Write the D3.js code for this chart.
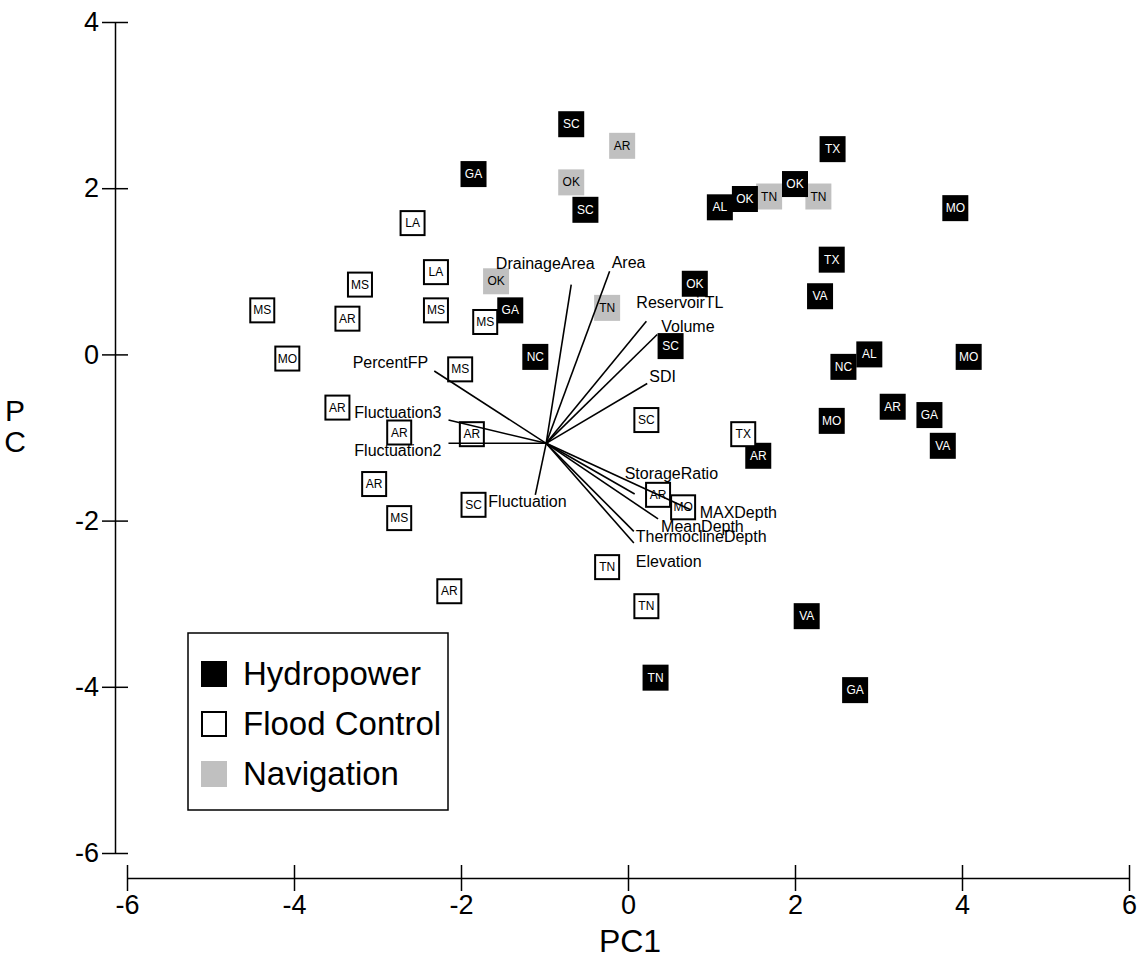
<!DOCTYPE html>
<html>
<head>
<meta charset="utf-8">
<script src="https://cdn.jsdelivr.net/npm/d3@7"></script>
<style>
  body { margin: 0; background: #fff; }
  svg { font-family: "Liberation Sans", Arial, sans-serif; }
  .axis path, .axis line { stroke: #000; stroke-width: 1.5; }
  .tick text { font-size: 27px; fill: #000; }
</style>
</head>
<body>
<div id="chart"></div>
<script>
//Global variables
const width = 1138;
const height = 964;

//Sites scored on PC1 / PC2, one array per reservoir use
const hydropower = [
    {st: "SC", pc1: -0.68, pc2: 2.77}, {st: "GA", pc1: -1.85, pc2: 2.17},
    {st: "SC", pc1: -0.51, pc2: 1.74}, {st: "AL", pc1: 1.10, pc2: 1.77},
    {st: "OK", pc1: 1.40, pc2: 1.87}, {st: "OK", pc1: 2.00, pc2: 2.05},
    {st: "TX", pc1: 2.45, pc2: 2.47}, {st: "MO", pc1: 3.92, pc2: 1.76},
    {st: "TX", pc1: 2.44, pc2: 1.14}, {st: "OK", pc1: 0.80, pc2: 0.85},
    {st: "VA", pc1: 2.30, pc2: 0.70}, {st: "GA", pc1: -1.41, pc2: 0.53},
    {st: "SC", pc1: 0.51, pc2: 0.10}, {st: "NC", pc1: -1.11, pc2: -0.03},
    {st: "AL", pc1: 2.89, pc2: 0.00}, {st: "NC", pc1: 2.58, pc2: -0.15},
    {st: "MO", pc1: 4.08, pc2: -0.03}, {st: "AR", pc1: 3.17, pc2: -0.63},
    {st: "MO", pc1: 2.44, pc2: -0.80}, {st: "GA", pc1: 3.61, pc2: -0.73},
    {st: "VA", pc1: 3.77, pc2: -1.10}, {st: "AR", pc1: 1.56, pc2: -1.22},
    {st: "VA", pc1: 2.14, pc2: -3.15}, {st: "TN", pc1: 0.33, pc2: -3.89},
    {st: "GA", pc1: 2.72, pc2: -4.04}
];

const floodControl = [
    {st: "LA", pc1: -2.58, pc2: 1.58}, {st: "LA", pc1: -2.30, pc2: 0.99},
    {st: "MS", pc1: -3.21, pc2: 0.84}, {st: "MS", pc1: -4.38, pc2: 0.53},
    {st: "AR", pc1: -3.36, pc2: 0.43}, {st: "MS", pc1: -2.30, pc2: 0.53},
    {st: "MS", pc1: -1.71, pc2: 0.39}, {st: "MO", pc1: -4.08, pc2: -0.05},
    {st: "MS", pc1: -2.01, pc2: -0.18}, {st: "AR", pc1: -3.48, pc2: -0.64},
    {st: "AR", pc1: -2.74, pc2: -0.94}, {st: "AR", pc1: -1.87, pc2: -0.96},
    {st: "AR", pc1: -3.04, pc2: -1.56}, {st: "MS", pc1: -2.74, pc2: -1.97},
    {st: "SC", pc1: -1.85, pc2: -1.81}, {st: "AR", pc1: -2.14, pc2: -2.85},
    {st: "SC", pc1: 0.22, pc2: -0.79}, {st: "TX", pc1: 1.38, pc2: -0.96},
    {st: "AR", pc1: 0.36, pc2: -1.69}, {st: "MO", pc1: 0.66, pc2: -1.84},
    {st: "TN", pc1: -0.25, pc2: -2.56}, {st: "TN", pc1: 0.22, pc2: -3.03}
];

const navigation = [
    {st: "AR", pc1: -0.07, pc2: 2.51}, {st: "OK", pc1: -0.68, pc2: 2.07},
    {st: "TN", pc1: 1.69, pc2: 1.90}, {st: "TN", pc1: 2.28, pc2: 1.90},
    {st: "OK", pc1: -1.58, pc2: 0.88}, {st: "TN", pc1: -0.25, pc2: 0.56}
];

//Variable loadings, drawn from a common origin
const vectorOrigin = {pc1: -0.98, pc2: -1.07};
const vectors = [
    {name: "DrainageArea", pc1: -0.68, pc2: 0.84},
    {name: "Area", pc1: -0.22, pc2: 1.00},
    {name: "ReservoirTL", pc1: 0.22, pc2: 0.40},
    {name: "Volume", pc1: 0.35, pc2: 0.24},
    {name: "SDI", pc1: 0.23, pc2: -0.35},
    {name: "PercentFP", pc1: -2.32, pc2: -0.20},
    {name: "Fluctuation3", pc1: -2.15, pc2: -0.79},
    {name: "Fluctuation2", pc1: -2.15, pc2: -1.07},
    {name: "Fluctuation", pc1: -1.11, pc2: -1.69},
    {name: "StorageRatio", pc1: 0.08, pc2: -1.68},
    {name: "MAXDepth", pc1: 0.75, pc2: -1.87},
    {name: "MeanDepth", pc1: 0.36, pc2: -1.98},
    {name: "ThermoclineDepth", pc1: 0.07, pc2: -2.13},
    {name: "Elevation", pc1: 0.07, pc2: -2.27}
];

const xTicks = [-6, -4, -2, 0, 2, 4, 6];
const yTicks = [-6, -4, -2, 0, 2, 4];
const legendItems = ["Hydropower", "Flood Control", "Navigation"];

//Label placement for the vectors (pixel offsets from the arrow tip)
const vecLabelPos = {
    DrainageArea: [-26, -16, "middle"],
    Area: [2, -3, "start"],
    ReservoirTL: [-10, -13, "start"],
    Volume: [4, -2, "start"],
    SDI: [2, -1, "start"],
    PercentFP: [-6, -3, "end"],
    Fluctuation3: [-7, -2, "end"],
    Fluctuation2: [-7, 13, "end"],
    Fluctuation: [-47, 12, "start"],
    StorageRatio: [-10, -15, "start"],
    MAXDepth: [9, 8, "start"],
    MeanDepth: [3, 13, "start"],
    ThermoclineDepth: [2, 11, "start"],
    Elevation: [2, 24, "start"]
};

//Styles per group
const groupStyle = {
    Hydropower: {fill: "#000", stroke: "none", text: "#fff"},
    "Flood Control": {fill: "#fff", stroke: "#000", text: "#000"},
    Navigation: {fill: "#c0c0c0", stroke: "none", text: "#000"}
};

//Scales
const xScale = d3.scaleLinear().domain([-6, 6]).range([127, 1129]);
const yScale = d3.scaleLinear().domain([-6, 4]).range([853, 22]);

const svg = d3.select("#chart")
    .append("svg")
    .attr("width", width)
    .attr("height", height);

//Axes, plain hyphen for negatives
svg.append("g")
    .attr("class", "axis")
    .attr("transform", "translate(0,878)")
    .call(d3.axisBottom(xScale).tickValues(xTicks).tickFormat(d => String(d))
        .tickSize(13).tickSizeOuter(0).tickPadding(4))
    .call(g => g.selectAll(".tick line").attr("y1", -13));

svg.append("g")
    .attr("class", "axis")
    .attr("transform", "translate(115,0)")
    .call(d3.axisLeft(yScale).tickValues(yTicks).tickFormat(d => String(d))
        .tickSize(13).tickSizeOuter(0).tickPadding(3))
    .call(g => g.selectAll(".tick line").attr("x1", 13));

//Axis titles
svg.append("text")
    .attr("x", 630)
    .attr("y", 952)
    .attr("text-anchor", "middle")
    .style("font-size", "32px")
    .text("PC1");

svg.append("text")
    .attr("x", 15)
    .attr("y", 421)
    .attr("text-anchor", "middle")
    .style("font-size", "30px")
    .text("P");

svg.append("text")
    .attr("x", 15)
    .attr("y", 452)
    .attr("text-anchor", "middle")
    .style("font-size", "30px")
    .text("C");

//Markers
const markerSize = 26;
function drawGroup(points, group) {
    const s = groupStyle[group];
    const inset = s.stroke === "none" ? 0 : 1;
    const m = svg.append("g")
        .selectAll("g")
        .data(points)
        .enter()
        .append("g")
        .attr("transform", d => `translate(${xScale(d.pc1)},${yScale(d.pc2)})`);
    m.append("rect")
        .attr("x", -markerSize / 2 + inset)
        .attr("y", -markerSize / 2 + inset)
        .attr("width", markerSize - 2 * inset)
        .attr("height", markerSize - 2 * inset)
        .attr("fill", s.fill)
        .attr("stroke", s.stroke)
        .attr("stroke-width", 2);
    m.append("text")
        .attr("y", 4)
        .attr("text-anchor", "middle")
        .style("font-size", "12px")
        .attr("fill", s.text)
        .text(d => d.st);
}

drawGroup(navigation, "Navigation");
drawGroup(hydropower, "Hydropower");
drawGroup(floodControl, "Flood Control");

//Vectors
svg.append("g")
    .selectAll("line")
    .data(vectors)
    .enter()
    .append("line")
    .attr("x1", xScale(vectorOrigin.pc1))
    .attr("y1", yScale(vectorOrigin.pc2))
    .attr("x2", d => xScale(d.pc1))
    .attr("y2", d => yScale(d.pc2))
    .attr("stroke", "#000")
    .attr("stroke-width", 1.6);

svg.append("g")
    .selectAll("text")
    .data(vectors)
    .enter()
    .append("text")
    .attr("x", d => xScale(d.pc1) + vecLabelPos[d.name][0])
    .attr("y", d => yScale(d.pc2) + vecLabelPos[d.name][1])
    .attr("text-anchor", d => vecLabelPos[d.name][2])
    .style("font-size", "16px")
    .text(d => d.name);

//Legend
const legend = svg.append("g").attr("transform", "translate(188,633)");
legend.append("rect")
    .attr("width", 260)
    .attr("height", 177)
    .attr("fill", "#fff")
    .attr("stroke", "#000")
    .attr("stroke-width", 1.5);

const li = legend.selectAll(".item")
    .data(legendItems)
    .enter()
    .append("g")
    .attr("class", "item")
    .attr("transform", (d, i) => `translate(0,${41 + i * 50})`);

li.append("rect")
    .attr("x", d => groupStyle[d].stroke === "none" ? 13 : 14)
    .attr("y", d => groupStyle[d].stroke === "none" ? -13 : -12)
    .attr("width", d => groupStyle[d].stroke === "none" ? 26 : 24)
    .attr("height", d => groupStyle[d].stroke === "none" ? 26 : 24)
    .attr("fill", d => groupStyle[d].fill)
    .attr("stroke", d => groupStyle[d].stroke)
    .attr("stroke-width", 2);

li.append("text")
    .attr("x", 55)
    .attr("y", 11)
    .style("font-size", "33px")
    .text(d => d);
</script>
</body>
</html>
